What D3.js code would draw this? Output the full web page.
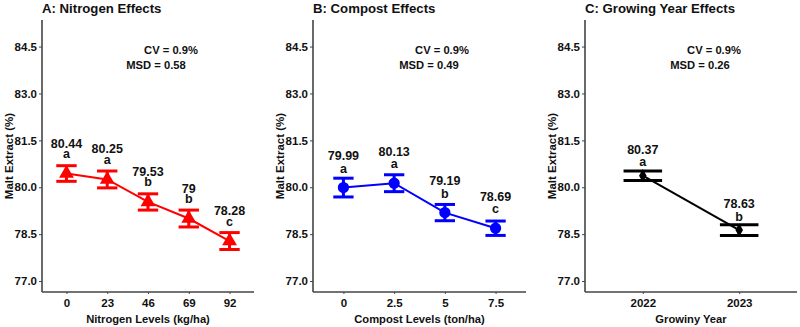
<!DOCTYPE html>
<html>
<head>
<meta charset="utf-8">
<script src="https://cdn.jsdelivr.net/npm/d3@7"></script>
<style>
  body { margin: 0; background: #fff; }
  text { font-family: "Liberation Sans", Arial, sans-serif; font-weight: bold; fill: #111; }
</style>
</head>
<body>
<svg id="chart" width="800" height="327"></svg>
<script>
// ---- data ----
var nitrogenLevels = ["0", "23", "46", "69", "92"];
var nitrogenMeans = [80.44, 80.25, 79.53, 79, 78.28];
var nitrogenSE = [0.25, 0.27, 0.26, 0.27, 0.27];
var nitrogenLetters = ["a", "a", "b", "b", "c"];

var compostLevels = ["0", "2.5", "5", "7.5"];
var compostMeans = [79.99, 80.13, 79.19, 78.69];
var compostSE = [0.30, 0.27, 0.26, 0.23];
var compostLetters = ["a", "a", "b", "c"];

var yearLevels = ["2022", "2023"];
var yearMeans = [80.37, 78.63];
var yearSE = [0.15, 0.17];
var yearLetters = ["a", "b"];

var yTicks = [77.0, 78.5, 80.0, 81.5, 83.0, 84.5];

var panels = [
  {title: "A: Nitrogen Effects", xTitle: "Nitrogen Levels (kg/ha)", cats: nitrogenLevels,
   means: nitrogenMeans, se: nitrogenSE, letters: nitrogenLetters,
   cv: "CV = 0.9%", msd: "MSD = 0.58", color: "#ff0000", shape: d3.symbolTriangle, size: 95,
   left: 42, right: 254, capW: 0.5, numOff: 30.5, letOff: 19, cvX: 171, msdX: 156},
  {title: "B: Compost Effects", xTitle: "Compost Levels (ton/ha)", cats: compostLevels,
   means: compostMeans, se: compostSE, letters: compostLetters,
   cv: "CV = 0.9%", msd: "MSD = 0.49", color: "#0000ff", shape: d3.symbolCircle, size: 100,
   left: 313, right: 526, capW: 0.4, numOff: 32, letOff: 18.5, cvX: 442, msdX: 429},
  {title: "C: Growing Year Effects", xTitle: "Growiny Year", cats: yearLevels,
   means: yearMeans, se: yearSE, letters: yearLetters,
   cv: "CV = 0.9%", msd: "MSD = 0.26", color: "#000000", shape: d3.symbolDiamond, size: 50,
   left: 585, right: 797, capW: 0.4, numOff: 26.5, letOff: 13, cvX: 714, msdX: 700}
];

var plotTop = 20, plotBottom = 292;
var svg = d3.select("#chart");

var y = d3.scaleLinear().domain([76.65, 85.35]).range([plotBottom, plotTop]);

panels.forEach(function(p) {
  var g = svg.append("g");

  var x = d3.scalePoint().domain(p.cats).range([p.left, p.right]).padding(0.6);
  var step = x.step();

  // title
  g.append("text").attr("x", p.left).attr("y", 13)
    .style("font-size", "13.2px").text(p.title);

  // y axis
  var yAxis = g.append("g").attr("transform", "translate(" + p.left + ",0)")
    .call(d3.axisLeft(y).tickValues(yTicks).tickFormat(d3.format(".1f")).tickSize(3).tickSizeOuter(0).tickPadding(2));
  yAxis.selectAll("text").style("font-size", "11.5px");

  // x axis
  var xAxis = g.append("g").attr("transform", "translate(0," + plotBottom + ")")
    .call(d3.axisBottom(x).tickSize(2).tickSizeOuter(0).tickPadding(5));
  xAxis.selectAll("text").style("font-size", "11.5px");

  yAxis.select(".domain").attr("d", "M0," + plotTop + "V" + plotBottom);
  xAxis.select(".domain").attr("d", "M" + p.left + ",0H" + p.right);
  [yAxis, xAxis].forEach(function(a) {
    a.select(".domain").attr("stroke", "#444").attr("stroke-width", 1.6);
    a.selectAll(".tick line").attr("stroke", "#444");
  });

  // axis titles
  g.append("text").attr("x", (p.left + p.right) / 2).attr("y", 323)
    .attr("text-anchor", "middle").style("font-size", "11.2px").text(p.xTitle);
  g.append("text")
    .attr("transform", "translate(" + (p.left - 29) + "," + ((plotTop + plotBottom) / 2) + ") rotate(-90)")
    .attr("text-anchor", "middle").style("font-size", "11.5px").text("Malt Extract  (%)");

  // CV / MSD
  g.append("text").attr("x", p.cvX).attr("y", 54).attr("text-anchor", "middle")
    .style("font-size", "11.2px").text(p.cv);
  g.append("text").attr("x", p.msdX).attr("y", 69).attr("text-anchor", "middle")
    .style("font-size", "11.2px").text(p.msd);

  var data = p.cats.map(function(c, i) {
    return {cat: c, mean: p.means[i], se: p.se[i], letter: p.letters[i]};
  });

  // connecting line
  g.append("path").datum(data)
    .attr("fill", "none").attr("stroke", p.color).attr("stroke-width", 2)
    .attr("d", d3.line().x(function(d) { return x(d.cat); }).y(function(d) { return y(d.mean); }));

  // error bars
  var half = p.capW * step / 2;
  var eb = g.selectAll(".eb").data(data).enter().append("g")
    .attr("stroke", p.color).attr("stroke-width", 3).attr("fill", "none");
  eb.append("line")
    .attr("x1", function(d) { return x(d.cat); }).attr("x2", function(d) { return x(d.cat); })
    .attr("y1", function(d) { return y(d.mean + d.se); }).attr("y2", function(d) { return y(d.mean - d.se); });
  eb.append("line")
    .attr("x1", function(d) { return x(d.cat) - half; }).attr("x2", function(d) { return x(d.cat) + half; })
    .attr("y1", function(d) { return y(d.mean + d.se); }).attr("y2", function(d) { return y(d.mean + d.se); });
  eb.append("line")
    .attr("x1", function(d) { return x(d.cat) - half; }).attr("x2", function(d) { return x(d.cat) + half; })
    .attr("y1", function(d) { return y(d.mean - d.se); }).attr("y2", function(d) { return y(d.mean - d.se); });

  // points
  g.selectAll(".pt").data(data).enter().append("path")
    .attr("transform", function(d) { return "translate(" + x(d.cat) + "," + y(d.mean) + ")"; })
    .attr("d", d3.symbol().type(p.shape).size(p.size))
    .attr("fill", p.color);

  // value and letter labels
  g.selectAll(".val").data(data).enter().append("text")
    .attr("x", function(d) { return x(d.cat); })
    .attr("y", function(d) { return y(d.mean) - p.numOff + 4.5; })
    .attr("text-anchor", "middle").style("font-size", "12.5px")
    .text(function(d) { return d.mean; });
  g.selectAll(".let").data(data).enter().append("text")
    .attr("x", function(d) { return x(d.cat); })
    .attr("y", function(d) { return y(d.mean) - p.letOff + 3.5; })
    .attr("text-anchor", "middle").style("font-size", "12.5px")
    .text(function(d) { return d.letter; });
});
</script>
</body>
</html>
